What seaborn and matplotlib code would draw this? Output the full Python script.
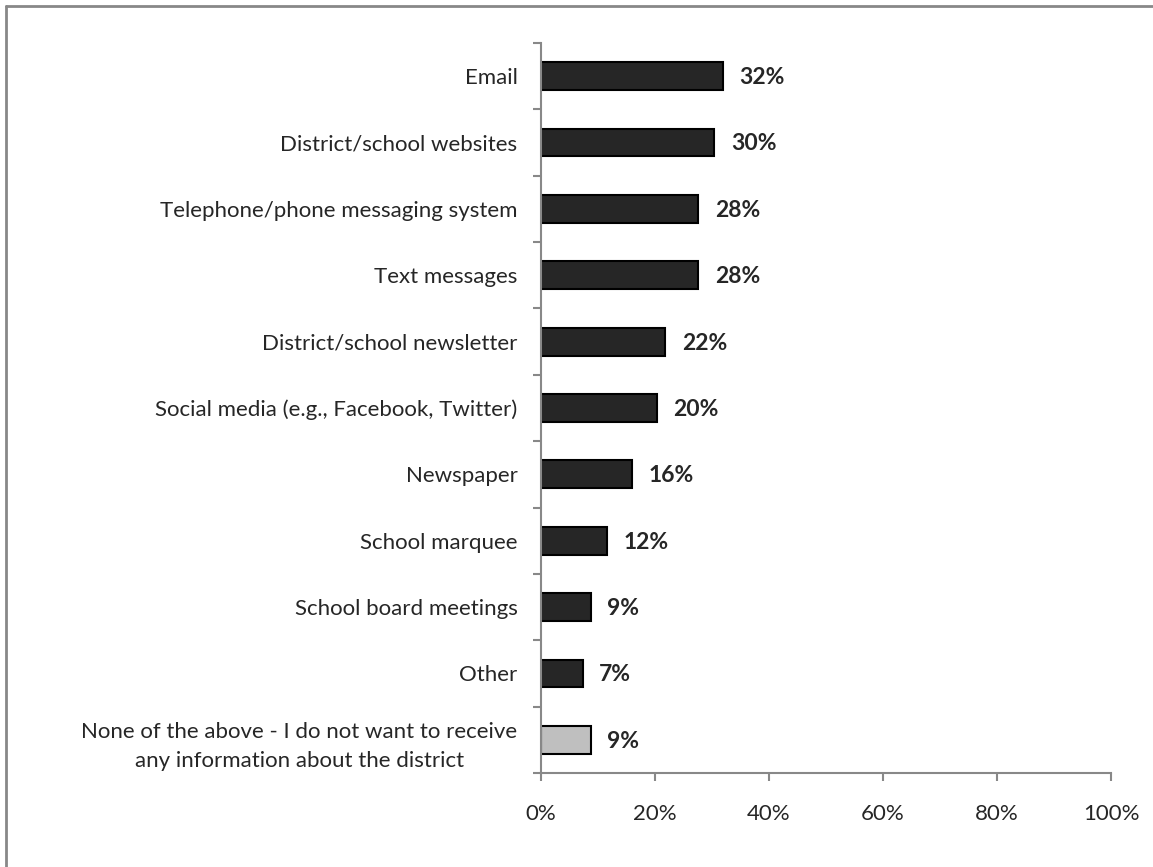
import matplotlib
matplotlib.use("Agg")
import matplotlib.pyplot as plt
import pandas as pd
import seaborn as sns
from matplotlib.lines import Line2D
from matplotlib.ticker import FixedLocator, PercentFormatter

categories = [
    "Email",
    "District/school websites",
    "Telephone/phone messaging system",
    "Text messages",
    "District/school newsletter",
    "Social media (e.g., Facebook, Twitter)",
    "Newspaper",
    "School marquee",
    "School board meetings",
    "Other",
    "None of the above - I do not want to receive\nany information about the district",
]
values = [31.9, 30.4, 27.6, 27.6, 21.8, 20.3, 16.0, 11.6, 8.7, 7.3, 8.7]
value_labels = ["32%", "30%", "28%", "28%", "22%", "20%", "16%", "12%", "9%", "7%", "9%"]
bar_colors = ["#262626"] * 10 + ["#bfbfbf"]
x_ticks = [0, 20, 40, 60, 80, 100]

sns.set_style("white")
plt.rcParams["font.family"] = ["Lato", "DejaVu Sans"]

df = pd.DataFrame({"category": categories, "value": values})

fig = plt.figure(figsize=(11.53, 8.67), dpi=100)
ax = fig.add_axes([541 / 1153, 1 - 773 / 867, 570 / 1153, 730 / 867])

sns.barplot(data=df, x="value", y="category", hue="category", palette=bar_colors,
            legend=False, width=0.42, edgecolor="black", linewidth=1.5, ax=ax)

ax.set_xlim(0, 100)
ax.set_ylim(len(categories) - 0.5, -0.5)
ax.xaxis.set_major_locator(FixedLocator(x_ticks))
ax.xaxis.set_major_formatter(PercentFormatter(decimals=0))
ax.set_xlabel("")
ax.set_ylabel("")

# category ticks sit between bars, labels at bar centres
ax.set_yticks([i - 0.5 for i in range(len(categories) + 1)])
ax.set_yticklabels([])
ax.set_yticks(range(len(categories)), minor=True)
ax.set_yticklabels(categories, minor=True, fontsize=16)
ax.tick_params(axis="y", which="minor", left=True, length=0, pad=17)
ax.tick_params(axis="y", which="major", left=True, length=6, color="#888888",
               width=1.5, direction="out")
ax.tick_params(axis="x", bottom=True, length=6, color="#888888", width=1.5,
               direction="out", labelsize=16, pad=16)
for lab in ax.get_yticklabels(minor=True):
    lab.set_horizontalalignment("right")
    lab.set_multialignment("center")
    lab.set_linespacing(1.6)

for side in ["top", "right"]:
    ax.spines[side].set_visible(False)
for side in ["left", "bottom"]:
    ax.spines[side].set_color("#888888")
    ax.spines[side].set_linewidth(1.5)

for i, (v, lbl) in enumerate(zip(values, value_labels)):
    ax.annotate(lbl, (v, i), xytext=(12, -1), textcoords="offset points",
                va="center", ha="left", fontsize=16.5, fontweight="bold")

# outer frame (only top and left visible in the original crop)
fig.add_artist(Line2D([6 / 1153, 6 / 1153], [0, 1 - 6 / 867], color="#888888", lw=2,
                      transform=fig.transFigure))
fig.add_artist(Line2D([6 / 1153, 1], [1 - 6 / 867, 1 - 6 / 867], color="#888888", lw=2,
                      transform=fig.transFigure))

fig.savefig("out.png", dpi=100)
